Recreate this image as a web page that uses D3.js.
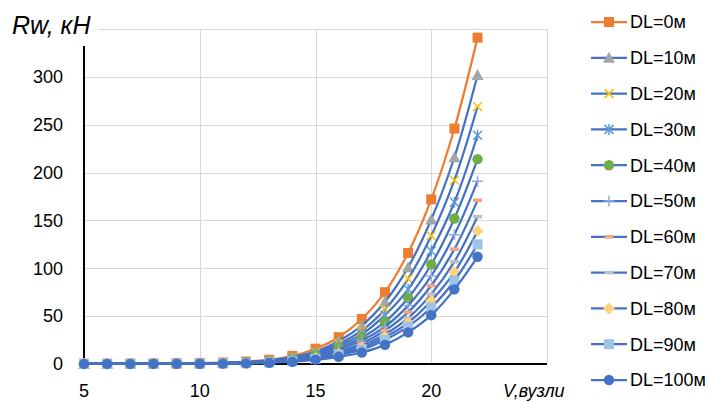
<!DOCTYPE html>
<meta charset="utf-8">
<style>
    body { margin: 0; background: #fff; }
    text { font-family: "Liberation Sans", Arial, sans-serif; fill: #000; }
    .grid line { stroke: #d9d9d9; stroke-width: 1; shape-rendering: crispEdges; }
    .tick { font-size: 18px; }
    .legend text { font-size: 18px; }
</style>
<svg width="709" height="403"></svg>
<script src="https://d3js.org/d3.v7.min.js"></script>
<script>

    // speed, knots
    var speeds = [5, 6, 7, 8, 9, 10, 11, 12, 13, 14, 15, 16, 17, 18, 19, 20, 21, 22];

    var names = ["DL=0м", "DL=10м", "DL=20м", "DL=30м", "DL=40м", "DL=50м",
                 "DL=60м", "DL=70м", "DL=80м", "DL=90м", "DL=100м"];

    // resistance, kN
    var dl0   = [0.3, 0.4, 0.5, 0.6, 0.8, 1.0, 1.5, 2.5, 4.5, 8.5, 16, 28, 47, 75, 116, 172, 246, 341];
    var dl10  = [0.3, 0.3, 0.4, 0.5, 0.7, 0.9, 1.3, 2.1, 3.8, 7.3, 13, 24, 40, 65, 101, 151, 216, 302];
    var dl20  = [0.2, 0.3, 0.4, 0.5, 0.6, 0.8, 1.1, 1.9, 3.4, 6.5, 12, 21, 35, 57, 89, 134, 192, 269];
    var dl30  = [0.2, 0.3, 0.3, 0.4, 0.5, 0.7, 1.0, 1.7, 3.0, 5.8, 10.5, 19, 31, 51, 78, 118, 169, 239];
    var dl40  = [0.2, 0.2, 0.3, 0.4, 0.5, 0.6, 0.9, 1.5, 2.7, 5.1, 9.4, 17, 27.5, 44, 69, 104, 152, 214];
    var dl50  = [0.2, 0.2, 0.3, 0.3, 0.4, 0.6, 0.8, 1.3, 2.4, 4.6, 8.4, 15, 24.5, 39, 61, 92, 135, 191];
    var dl60  = [0.1, 0.2, 0.2, 0.3, 0.4, 0.5, 0.7, 1.2, 2.1, 4.1, 7.5, 13, 21.5, 35, 54, 82, 120, 171];
    var dl70  = [0.1, 0.2, 0.2, 0.3, 0.3, 0.4, 0.6, 1.0, 1.9, 3.6, 6.7, 12, 19, 31, 48, 73, 107, 154];
    var dl80  = [0.1, 0.1, 0.2, 0.2, 0.3, 0.4, 0.6, 0.9, 1.7, 3.2, 6.0, 10.5, 17, 28, 43, 66, 96, 139];
    var dl90  = [0.1, 0.1, 0.2, 0.2, 0.3, 0.3, 0.5, 0.8, 1.5, 2.9, 5.3, 9.4, 15, 25, 39, 59, 87, 125];
    var dl100 = [0.1, 0.1, 0.1, 0.2, 0.2, 0.3, 0.4, 0.7, 1.3, 2.4, 4.5, 7.5, 12, 20, 33, 51, 78, 112];

    var xTicks = [5, 10, 15, 20];
    var xGrid = [10, 15, 20, 25];
    var yTicks = [0, 50, 100, 150, 200, 250, 300];
    var yGrid = [50, 100, 150, 200, 250, 300, 350];

    var allSeries = [dl0, dl10, dl20, dl30, dl40, dl50, dl60, dl70, dl80, dl90, dl100];
    var markers = ["square", "triangle", "x", "star", "circle", "plus", "dash", "dash", "diamond", "square", "circle"];
    var markerColors = ["#ED7D31", "#A5A5A5", "#FFC000", "#5B9BD5", "#70AD47", "#8FAADC",
                        "#F4A582", "#BFBFBF", "#FFD27F", "#9DC3E6", "#4472C4"];
    var lineColors = ["#ED7D31", "#4472C4", "#4472C4", "#4472C4", "#4472C4", "#4472C4",
                      "#4472C4", "#4472C4", "#4472C4", "#4472C4", "#4472C4"];

    var svg = d3.select("svg");

    var x = d3.scaleLinear().domain([5, 25]).range([84, 547]);
    var y = d3.scaleLinear().domain([0, 350]).range([364, 29]);

    // grid
    var grid = svg.append("g").attr("class", "grid");
    grid.selectAll(".h").data(yGrid).enter().append("line")
        .attr("x1", x(5)).attr("x2", x(25))
        .attr("y1", function(d) { return Math.round(y(d)) + 0.5; })
        .attr("y2", function(d) { return Math.round(y(d)) + 0.5; });
    grid.selectAll(".v").data(xGrid).enter().append("line")
        .attr("y1", y(0)).attr("y2", y(350))
        .attr("x1", function(d) { return Math.round(x(d)) + 0.5; })
        .attr("x2", function(d) { return Math.round(x(d)) + 0.5; });

    // axes lines
    svg.append("line").attr("x1", x(5)).attr("x2", x(5)).attr("y1", y(0)).attr("y2", y(350))
        .attr("stroke", "#000").attr("stroke-width", 2);
    svg.append("line").attr("x1", x(5) - 1).attr("x2", x(25)).attr("y1", y(0)).attr("y2", y(0))
        .attr("stroke", "#000").attr("stroke-width", 2);

    // tick labels
    svg.selectAll(".ytick").data(yTicks).enter().append("text")
        .attr("class", "tick")
        .attr("x", 63).attr("y", function(d) { return y(d); })
        .attr("dy", "0.35em").attr("text-anchor", "end")
        .text(function(d) { return d; });
    svg.selectAll(".xtick").data(xTicks).enter().append("text")
        .attr("class", "tick")
        .attr("x", function(d) { return x(d); }).attr("y", 397)
        .attr("text-anchor", "middle")
        .text(function(d) { return d; });

    // axis titles
    svg.append("rect").attr("x", 6).attr("y", 4).attr("width", 92).attr("height", 42).attr("fill", "#fff");
    svg.append("text").attr("x", 12).attr("y", 34)
        .style("font-size", "25px").style("font-style", "italic")
        .text("Rw, кН");
    svg.append("text").attr("x", 503).attr("y", 397)
        .style("font-size", "18px").style("font-style", "italic")
        .text("V,вузли");

    function drawMarker(g, type, color, cx, cy) {
        var m = g.append("g").attr("transform", "translate(" + cx + "," + cy + ")");
        if (type === "square") {
            m.append("rect").attr("x", -5).attr("y", -5).attr("width", 10).attr("height", 10).attr("fill", color);
        } else if (type === "triangle") {
            m.append("path").attr("d", "M0,-6L6,5L-6,5Z").attr("fill", color);
        } else if (type === "circle") {
            m.append("circle").attr("r", 5.2).attr("fill", color);
        } else if (type === "diamond") {
            m.append("path").attr("d", "M0,-6L6,0L0,6L-6,0Z").attr("fill", color);
        } else if (type === "dash") {
            m.append("rect").attr("x", -4.5).attr("y", -1.8).attr("width", 9).attr("height", 3.6).attr("fill", color);
        } else {
            var p = "";
            if (type === "x" || type === "star") p += "M-4.5,-4.5L4.5,4.5M-4.5,4.5L4.5,-4.5";
            if (type === "star") p += "M0,-5.5L0,5.5";
            if (type === "plus") p += "M-5.5,0L5.5,0M0,-5.5L0,5.5";
            m.append("path").attr("d", p).attr("stroke", color).attr("stroke-width", 1.5).attr("fill", "none");
        }
    }

    var line = d3.line()
        .x(function(d) { return x(d[0]); })
        .y(function(d) { return y(d[1]); })
        .curve(d3.curveCatmullRom.alpha(0.5));

    allSeries.forEach(function(vals, i) {
        var pts = speeds.map(function(s, j) { return [s, vals[j]]; });
        var g = svg.append("g");
        g.append("path").datum(pts)
            .attr("d", line)
            .attr("fill", "none")
            .attr("stroke", lineColors[i])
            .attr("stroke-width", 2.25)
            .attr("stroke-linejoin", "round");
        pts.forEach(function(p) {
            drawMarker(g, markers[i], markerColors[i], x(p[0]), y(p[1]));
        });
    });

    // legend
    var legend = svg.append("g").attr("class", "legend");
    names.forEach(function(n, i) {
        var ly = 22 + i * 35.8;
        legend.append("line").attr("x1", 591).attr("x2", 627).attr("y1", ly).attr("y2", ly)
            .attr("stroke", lineColors[i]).attr("stroke-width", 2.25);
        drawMarker(legend, markers[i], markerColors[i], 609, ly);
        legend.append("text").attr("x", 630).attr("y", ly).attr("dy", "0.35em").text(n);
    });

</script>
